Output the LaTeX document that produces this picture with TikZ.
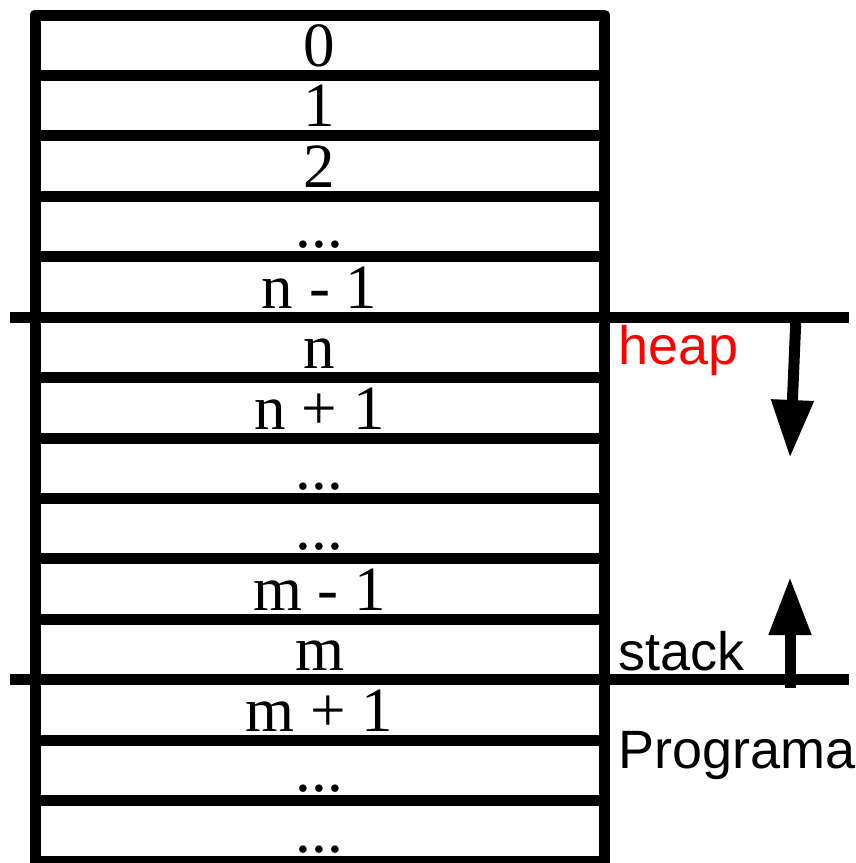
\documentclass[tikz,border=0pt]{standalone}
\usepackage{fontspec}
\setmainfont{Liberation Serif}
\newfontfamily\regionfont{Liberation Sans}
\usetikzlibrary{arrows.meta}
\begin{document}
\begin{tikzpicture}[x=1pt,y=-1pt,
  wall/.style={line width=11pt},
  cellnum/.style={font=\fontsize{63}{70}\selectfont, inner sep=0pt, text depth=0pt, anchor=base},
  region/.style={font=\regionfont\fontsize{54}{60}\selectfont, inner sep=0pt, anchor=base west},
  growth/.style={line width=11pt, -{Triangle[width=40pt,length=58pt]}}]
\useasboundingbox (0,0) rectangle (855,863);
\fill[white] (0,0) rectangle (855,863);

% memory column: outer frame
\draw[wall, line join=round] (35,875) -- (35,15) -- (604.5,15) -- (604.5,875);

% cell separators
\foreach \i in {1,2,3,4,6,7,8,9,10,12,13,14}
  \draw[wall] (35,{15+\i*60.43}) -- (604.5,{15+\i*60.43});

% heap and stack boundaries
\draw[wall] (10,{15+5*60.43}) -- (849,{15+5*60.43});
\draw[wall] (10,{15+11*60.43}) -- (849,{15+11*60.43});

% cell addresses
\node[cellnum] (c0)  at (319.5,{66.43+0*60.43})  {0};
\node[cellnum] (c1)  at (319.5,{66.43+1*60.43})  {1};
\node[cellnum] (c2)  at (319.5,{66.43+2*60.43})  {2};
\node[cellnum] (c3)  at (319.5,{66.43+3*60.43})  {...};
\node[cellnum] (c4)  at (319.5,{66.43+4*60.43})  {n - 1};
\node[cellnum] (c5)  at (319.5,{66.43+5*60.43})  {n};
\node[cellnum] (c6)  at (319.5,{66.43+6*60.43})  {n + 1};
\node[cellnum] (c7)  at (319.5,{66.43+7*60.43})  {...};
\node[cellnum] (c8)  at (319.5,{66.43+8*60.43})  {...};
\node[cellnum] (c9)  at (319.5,{66.43+9*60.43})  {m - 1};
\node[cellnum] (c10) at (319.5,{66.43+10*60.43}) {m};
\node[cellnum] (c11) at (319.5,{66.43+11*60.43}) {m + 1};
\node[cellnum] (c12) at (319.5,{66.43+12*60.43}) {...};
\node[cellnum] (c13) at (319.5,{66.43+13*60.43}) {...};

% region labels
\node[region, text=red] (heap) at (618,364) {heap};
\node[region] (stack) at (618,670) {stack};
\node[region] (prog) at (618,768) {Programa};

% growth directions
\coordinate (heapfrom) at (796,316);
\coordinate (heapto) at (790,458);
\coordinate (stackfrom) at (790,688);
\coordinate (stackto) at (790,577);
\draw[growth] (heapfrom) -- (heapto);
\draw[growth] (stackfrom) -- (stackto);
\end{tikzpicture}
\end{document}
